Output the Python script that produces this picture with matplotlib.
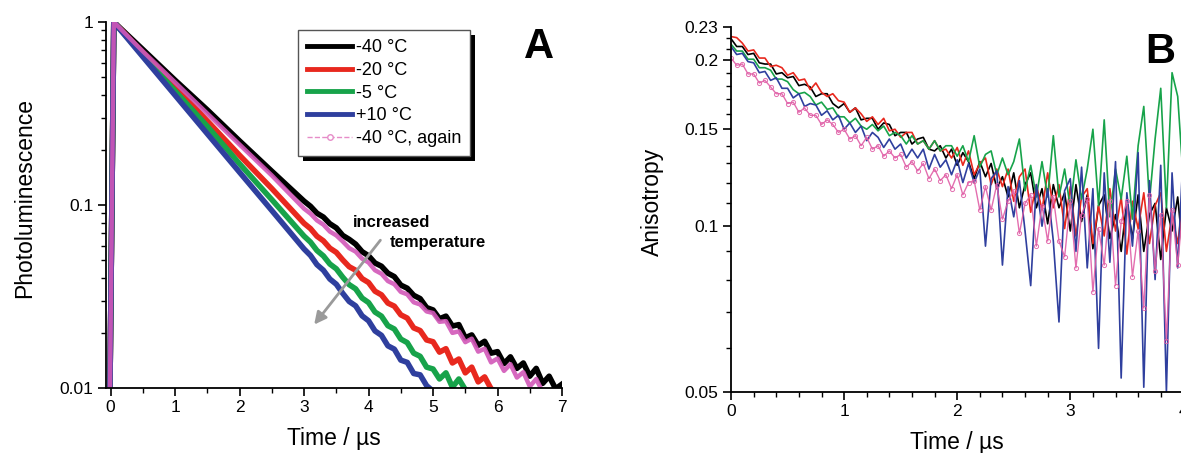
import matplotlib
matplotlib.use("Agg")
import matplotlib.pyplot as plt
import numpy as np
from matplotlib.lines import Line2D
from matplotlib.patches import Rectangle
from matplotlib.ticker import FixedLocator, FixedFormatter, LogLocator, NullFormatter, MultipleLocator

plt.rcParams['font.family'] = ['Liberation Sans', 'DejaVu Sans']

# ---- panel A: photoluminescence decays (time in us) ----
t_pl = [-0.01, 0.05, 0.5, 1.0, 1.5, 2.0, 2.5, 3.0,
        3.1, 3.2, 3.3, 3.4, 3.5, 3.6, 3.7, 3.8, 3.9, 4.0,
        4.1, 4.2, 4.3, 4.4, 4.5, 4.6, 4.7, 4.8, 4.9, 5.0,
        5.1, 5.2, 5.3, 5.4, 5.5, 5.6, 5.7, 5.8, 5.9, 6.0,
        6.1, 6.2, 6.3, 6.4, 6.5, 6.6, 6.7, 6.8, 6.9, 7.0]

pl_m40 = [0.0095, 1.0, 0.708, 0.481, 0.331, 0.224, 0.153, 0.105,
          0.0984, 0.0902, 0.0859, 0.0790, 0.0750, 0.0682, 0.0649, 0.0611, 0.0556, 0.0528,
          0.0482, 0.0463, 0.0424, 0.0406, 0.0365, 0.0351, 0.0321, 0.0308, 0.0275, 0.0267,
          0.0239, 0.0247, 0.0218, 0.0222, 0.0188, 0.0195, 0.0171, 0.0180, 0.0155, 0.0158,
          0.0136, 0.0148, 0.0128, 0.0137, 0.0116, 0.0128, 0.0106, 0.0116, 0.0099, 0.0105]
pl_m20 = [0.0095, 1.0, 0.676, 0.443, 0.288, 0.187, 0.123, 0.0794,
          0.0743, 0.0675, 0.0637, 0.0581, 0.0551, 0.0501, 0.0460, 0.0440, 0.0396, 0.0377,
          0.0338, 0.0323, 0.0291, 0.0280, 0.0251, 0.0241, 0.0213, 0.0206, 0.0183, 0.0179,
          0.0157, 0.0164, 0.0137, 0.0144, 0.0121, 0.0130, 0.0108, 0.0115, 0.0099, 0.0095]
pl_m5 = [0.0095, 1.0, 0.661, 0.420, 0.269, 0.168, 0.107, 0.0676,
         0.0627, 0.0564, 0.0527, 0.0476, 0.0448, 0.0403, 0.0367, 0.0348, 0.0310, 0.0293,
         0.0260, 0.0247, 0.0219, 0.0210, 0.0185, 0.0177, 0.0155, 0.0149, 0.0130, 0.0127,
         0.0112, 0.0121, 0.0101, 0.0112, 0.0098, 0.0095]
pl_p10 = [0.0095, 1.0, 0.646, 0.398, 0.245, 0.151, 0.0933, 0.0575,
          0.0530, 0.0472, 0.0440, 0.0394, 0.0369, 0.0329, 0.0297, 0.0281, 0.0248, 0.0233,
          0.0205, 0.0194, 0.0170, 0.0163, 0.0142, 0.0138, 0.0120, 0.0118, 0.0103, 0.0096]
pl_m40b = [0.0095, 1.0, 0.692, 0.468, 0.316, 0.214, 0.145, 0.0955,
           0.0897, 0.0824, 0.0781, 0.0716, 0.0682, 0.0632, 0.0581, 0.0556, 0.0509, 0.0485,
           0.0440, 0.0421, 0.0384, 0.0369, 0.0335, 0.0325, 0.0294, 0.0286, 0.0262, 0.0257,
           0.0230, 0.0232, 0.0200, 0.0204, 0.0178, 0.0186, 0.0158, 0.0164, 0.0138, 0.0145,
           0.0124, 0.0135, 0.0114, 0.0122, 0.0102, 0.0112, 0.0095]

# ---- panel B: anisotropy, sampled every 0.05 us from 0 to 4.3 ----
t_an = np.arange(87) * 0.05

an_m40 = [0.219, 0.212, 0.212, 0.205, 0.206, 0.198, 0.197, 0.197, 0.189, 0.190,
          0.186, 0.187, 0.180, 0.181, 0.179, 0.172, 0.174, 0.174, 0.167, 0.164,
          0.167, 0.161, 0.164, 0.156, 0.157, 0.157, 0.150, 0.154, 0.153, 0.146,
          0.148, 0.148, 0.141, 0.144, 0.145, 0.138, 0.137, 0.140, 0.133, 0.138,
          0.129, 0.136, 0.131, 0.122, 0.131, 0.123, 0.130, 0.117, 0.123, 0.113,
          0.125, 0.108, 0.119, 0.125, 0.108, 0.117, 0.101, 0.119, 0.108, 0.115,
          0.098, 0.119, 0.102, 0.114, 0.091, 0.109, 0.114, 0.095, 0.105, 0.090,
          0.111, 0.095, 0.114, 0.090, 0.105, 0.110, 0.087, 0.108, 0.098, 0.113,
          0.088, 0.106, 0.092, 0.114, 0.095, 0.110, 0.090]
an_m20 = [0.221, 0.220, 0.215, 0.208, 0.209, 0.202, 0.202, 0.195, 0.196, 0.194,
          0.188, 0.190, 0.184, 0.185, 0.177, 0.182, 0.175, 0.172, 0.174, 0.169,
          0.168, 0.161, 0.164, 0.160, 0.155, 0.158, 0.153, 0.157, 0.149, 0.150,
          0.145, 0.148, 0.148, 0.141, 0.143, 0.138, 0.143, 0.137, 0.138, 0.133,
          0.139, 0.129, 0.137, 0.124, 0.130, 0.133, 0.119, 0.127, 0.118, 0.127,
          0.111, 0.123, 0.127, 0.106, 0.119, 0.107, 0.125, 0.108, 0.119, 0.099,
          0.118, 0.096, 0.113, 0.117, 0.093, 0.109, 0.096, 0.117, 0.098, 0.113,
          0.089, 0.111, 0.099, 0.115, 0.093, 0.109, 0.115, 0.090, 0.105, 0.093,
          0.113, 0.096, 0.116, 0.089, 0.107, 0.094, 0.112]
an_m5 = [0.214, 0.208, 0.208, 0.201, 0.201, 0.194, 0.194, 0.192, 0.185, 0.185,
         0.183, 0.177, 0.174, 0.175, 0.172, 0.166, 0.168, 0.163, 0.164, 0.158,
         0.158, 0.154, 0.157, 0.152, 0.150, 0.153, 0.149, 0.152, 0.146, 0.148,
         0.146, 0.141, 0.146, 0.141, 0.143, 0.138, 0.143, 0.137, 0.140, 0.140,
         0.134, 0.140, 0.131, 0.146, 0.128, 0.135, 0.137, 0.124, 0.133, 0.124,
         0.131, 0.144, 0.116, 0.129, 0.113, 0.131, 0.113, 0.146, 0.113, 0.127,
         0.108, 0.132, 0.112, 0.127, 0.150, 0.109, 0.156, 0.104, 0.127, 0.112,
         0.134, 0.103, 0.140, 0.165, 0.111, 0.144, 0.178, 0.108, 0.190, 0.172,
         0.121, 0.160, 0.104, 0.148, 0.117, 0.139, 0.108]
an_p10 = [0.212, 0.205, 0.206, 0.199, 0.198, 0.190, 0.191, 0.184, 0.186, 0.178,
          0.178, 0.171, 0.174, 0.165, 0.167, 0.166, 0.159, 0.162, 0.156, 0.159,
          0.150, 0.154, 0.148, 0.152, 0.143, 0.148, 0.145, 0.139, 0.144, 0.138,
          0.141, 0.133, 0.138, 0.133, 0.138, 0.127, 0.135, 0.128, 0.132, 0.124,
          0.132, 0.120, 0.130, 0.120, 0.127, 0.092, 0.122, 0.126, 0.085, 0.118,
          0.104, 0.121, 0.098, 0.078, 0.119, 0.100, 0.117, 0.094, 0.067, 0.116,
          0.122, 0.090, 0.128, 0.084, 0.117, 0.060, 0.125, 0.086, 0.131, 0.053,
          0.115, 0.092, 0.136, 0.051, 0.121, 0.080, 0.129, 0.050, 0.125, 0.084,
          0.138, 0.070, 0.126, 0.057, 0.119, 0.082, 0.131]
an_m40b = [0.202, 0.196, 0.197, 0.189, 0.189, 0.182, 0.184, 0.179, 0.174, 0.174,
           0.167, 0.168, 0.161, 0.164, 0.159, 0.159, 0.153, 0.156, 0.153, 0.148,
           0.150, 0.144, 0.146, 0.140, 0.145, 0.138, 0.140, 0.134, 0.137, 0.133,
           0.135, 0.128, 0.131, 0.126, 0.130, 0.122, 0.127, 0.121, 0.124, 0.117,
           0.124, 0.114, 0.120, 0.121, 0.107, 0.118, 0.107, 0.119, 0.103, 0.111,
           0.116, 0.097, 0.110, 0.114, 0.092, 0.109, 0.094, 0.113, 0.094, 0.088,
           0.111, 0.084, 0.105, 0.112, 0.076, 0.099, 0.085, 0.111, 0.078, 0.102,
           0.111, 0.081, 0.098, 0.071, 0.114, 0.083, 0.105, 0.062, 0.107, 0.085,
           0.111, 0.081, 0.103, 0.069, 0.107, 0.086, 0.101]

labels = ['-40 °C', '-20 °C', '-5 °C', '+10 °C', '-40 °C, again']
colors = ['#000000', '#e8281e', '#17a34a', '#2f3f9e', '#d257b8']
pink_b = '#e05ea6'

fig = plt.figure(figsize=(11.81, 4.53), dpi=100)
axA = fig.add_axes([0.0898, 0.1435, 0.3861, 0.8079])
axB = fig.add_axes([0.6190, 0.1347, 0.3830, 0.8057])

# panel A
for vals, c in zip([pl_m40, pl_m20, pl_m5, pl_p10], colors[:4]):
    axA.plot(t_pl[:len(vals)], vals, color=c, lw=4.0, solid_joinstyle='round')
axA.plot(t_pl[:len(pl_m40b)], pl_m40b, color=colors[4], lw=3.2, alpha=0.9)

axA.set_yscale('log')
axA.set_xlim(-0.07, 7.0)
axA.set_ylim(0.01, 1.0)
axA.yaxis.set_major_locator(FixedLocator([0.01, 0.1, 1]))
axA.yaxis.set_major_formatter(FixedFormatter(['0.01', '0.1', '1']))
axA.yaxis.set_minor_locator(LogLocator(subs=np.arange(2, 10)))
axA.yaxis.set_minor_formatter(NullFormatter())
axA.xaxis.set_major_locator(MultipleLocator(1))
axA.xaxis.set_minor_locator(MultipleLocator(0.5))
axA.set_xlabel('Time / µs', fontsize=16.5, labelpad=8)
axA.set_ylabel('Photoluminescence', fontsize=16.5)
axA.yaxis.set_label_coords(-0.153, 0.52)
axA.text(0.95, 0.932, 'A', transform=axA.transAxes, fontsize=30,
         fontweight='bold', ha='center', va='center')
axA.annotate('', xy=(3.13, 0.0216), xytext=(4.21, 0.066),
             arrowprops=dict(arrowstyle='-|>', color='#9a9a9a', lw=2,
                             mutation_scale=18))
axA.text(3.76, 0.0807, 'increased', fontsize=12, fontweight='bold',
         ha='left', va='center')
axA.text(4.33, 0.062, 'temperature', fontsize=12, fontweight='bold',
         ha='left', va='center')

handles = [Line2D([], [], color=c, lw=3.5) for c in colors[:4]]
handles.append(Line2D([], [], color='#e68cc8', lw=1, ls='--', marker='o',
                      ms=4, mfc='white', mec='#e68cc8'))
leg = axA.legend(handles, labels, loc='upper left', bbox_to_anchor=(0.421, 0.978),
                 borderaxespad=0, fontsize=13, frameon=True, fancybox=False,
                 framealpha=1, facecolor='white',
                 handlelength=2.5, handletextpad=0.2, labelspacing=0.32,
                 borderpad=0.5)
leg.get_frame().set_edgecolor('#555555')
leg.get_frame().set_linewidth(1.0)

# panel B
for vals, c in zip([an_m40, an_m20, an_m5, an_p10], colors[:4]):
    axB.plot(t_an, vals, color=c, lw=1.2)
axB.plot(t_an, an_m40b, color=pink_b, lw=1.0, marker='o', ms=3, mfc='none',
         mew=0.7, alpha=0.9)

axB.set_yscale('log')
axB.set_xlim(0, 4.0)
axB.set_ylim(0.05, 0.23)
axB.yaxis.set_major_locator(FixedLocator([0.05, 0.1, 0.15, 0.2, 0.23]))
axB.yaxis.set_major_formatter(FixedFormatter(['0.05', '0.1', '0.15', '0.2', '0.23']))
axB.yaxis.set_minor_locator(FixedLocator([0.06, 0.07, 0.08, 0.09, 0.11, 0.12, 0.13,
                                          0.14, 0.16, 0.17, 0.18, 0.19, 0.21, 0.22]))
axB.yaxis.set_minor_formatter(NullFormatter())
axB.xaxis.set_major_locator(MultipleLocator(1))
axB.xaxis.set_minor_locator(MultipleLocator(0.2))
axB.set_xlabel('Time / µs', fontsize=16.5, labelpad=8)
axB.set_ylabel('Anisotropy', fontsize=16.5)
axB.yaxis.set_label_coords(-0.148, 0.52)
axB.text(0.949, 0.932, 'B', transform=axB.transAxes, fontsize=30,
         fontweight='bold', ha='center', va='center')

for ax in (axA, axB):
    for s in ('top', 'right'):
        ax.spines[s].set_visible(False)
    for s in ('left', 'bottom'):
        ax.spines[s].set_linewidth(1.3)
    ax.tick_params(which='major', direction='out', length=6, width=1.2,
                   labelsize=12.5, pad=3)
    ax.tick_params(which='minor', direction='out', length=3.5, width=1.0)

# black drop shadow behind the legend box
fig.canvas.draw()
bb = leg.get_window_extent()
axA.add_patch(Rectangle((bb.x0 + 5, bb.y0 - 5), bb.width, bb.height,
                        transform=None, facecolor='black', edgecolor='none',
                        clip_on=False, zorder=4.9))

fig.savefig('out.png', dpi=100, facecolor='white')
